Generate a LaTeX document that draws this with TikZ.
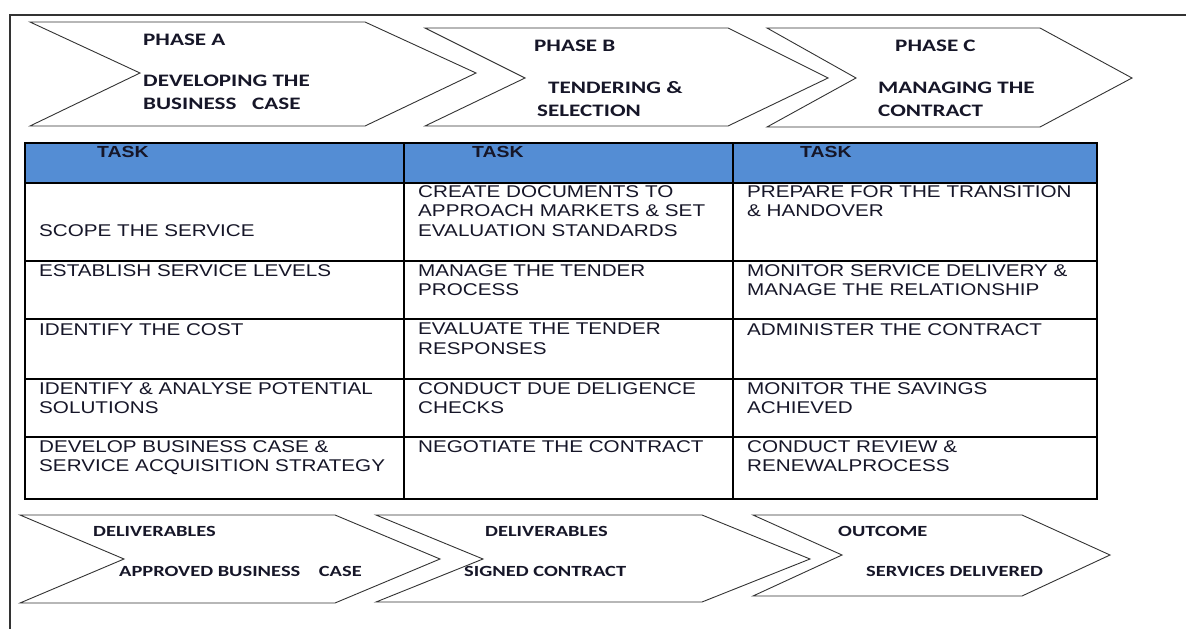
\documentclass[tikz,border=0pt]{standalone}
\usepackage{fontspec}
\setmainfont{Liberation Sans}
\newfontfamily\chevfont[FakeStretch=1.32]{Carlito}
\newfontfamily\cellfont[FakeStretch=1.215]{Liberation Sans}
\definecolor{headblue}{RGB}{84,141,212}
\definecolor{inkdark}{RGB}{22,22,40}

\begin{document}
\begin{tikzpicture}[x=1pt,y=-1pt,
    frame/.style={line width=1.3pt,black!80},
    chevron/.style={line width=0.9pt,black!80,line join=miter},
    grid/.style={line width=1.1pt,black},
    phasetext/.style={inner sep=0,anchor=west,align=left,text=inkdark,
      font=\chevfont\bfseries\fontsize{17.5}{23}\selectfont},
    resulttext/.style={inner sep=0,anchor=west,text=inkdark,
      font=\chevfont\bfseries\fontsize{15.5}{19}\selectfont},
    tasktext/.style={inner sep=0,anchor=west,text=inkdark,
      font=\cellfont\bfseries\fontsize{16}{19}\selectfont},
    celltext/.style={inner sep=0,anchor=north west,align=left,text=inkdark,
      font=\cellfont\fontsize{17}{19.5}\selectfont}]

  \useasboundingbox (0,0) rectangle (1186,629);

  % page frame
  \draw[frame] (10,629) -- (10,15) -- (1186,15);

  % phase chevrons
  \draw[chevron] (30,22) -- (365,22) -- (476,73) -- (365,126) -- (30,126) -- (140,73) -- cycle;
  \draw[chevron] (425,28) -- (728,28) -- (828,78) -- (728,126) -- (425,126) -- (525,78) -- cycle;
  \draw[chevron] (767,28) -- (1040,28) -- (1132,78) -- (1040,127) -- (767,127) -- (856,78) -- cycle;

  \node[phasetext] (phaseA) at (143,40) {PHASE A};
  \node[phasetext] (descA) at (143,92.5) {DEVELOPING THE\\BUSINESS\ \ \ CASE};
  \node[phasetext] (phaseB) at (534,46) {PHASE B};
  \node[phasetext] (descB) at (537,99.5) {\hspace{11pt}TENDERING \&\\SELECTION};
  \node[phasetext] (phaseC) at (895,46) {PHASE C};
  \node[phasetext] (descC) at (878,99.5) {MANAGING THE\\CONTRACT};

  % task table
  \fill[headblue] (25,143) rectangle (1097,183);
  \draw[grid] (25,143) rectangle (1097,499);
  \foreach \y in {183,261,319,379,437}
    \draw[grid] (25,\y) -- (1097,\y);
  \foreach \x in {404,733}
    \draw[grid] (\x,143) -- (\x,499);

  \node[tasktext] (taskA) at (97,152) {TASK};
  \node[tasktext] (taskB) at (472,152) {TASK};
  \node[tasktext] (taskC) at (800,152) {TASK};

  \node[celltext] (scope) at (39,224) {SCOPE THE SERVICE};
  \node[celltext] (create) at (418,185) {CREATE DOCUMENTS TO\\APPROACH MARKETS \& SET\\EVALUATION STANDARDS};
  \node[celltext] (prepare) at (747,185) {PREPARE FOR THE TRANSITION\\\& HANDOVER};

  \node[celltext] (establish) at (39,264) {ESTABLISH SERVICE LEVELS};
  \node[celltext] (tender) at (418,264) {MANAGE THE TENDER\\PROCESS};
  \node[celltext] (monitor) at (747,264) {MONITOR SERVICE DELIVERY \&\\MANAGE THE RELATIONSHIP};

  \node[celltext] (cost) at (39,323) {IDENTIFY THE COST};
  \node[celltext] (evaluate) at (418,323) {EVALUATE THE TENDER\\RESPONSES};
  \node[celltext] (administer) at (747,323) {ADMINISTER THE CONTRACT};

  \node[celltext] (analyse) at (39,382) {IDENTIFY \& ANALYSE POTENTIAL\\SOLUTIONS};
  \node[celltext] (diligence) at (418,382) {CONDUCT DUE DELIGENCE\\CHECKS};
  \node[celltext] (savings) at (747,382) {MONITOR THE SAVINGS\\ACHIEVED};

  \node[celltext] (develop) at (39,440) {DEVELOP BUSINESS CASE \&\\SERVICE ACQUISITION STRATEGY};
  \node[celltext] (negotiate) at (418,440) {NEGOTIATE THE CONTRACT};
  \node[celltext] (review) at (747,440) {CONDUCT REVIEW \&\\RENEWALPROCESS};

  % deliverable chevrons
  \draw[chevron] (20,515) -- (335,515) -- (440,559) -- (335,603) -- (20,603) -- (124,559) -- cycle;
  \draw[chevron] (376,515) -- (702,515) -- (810,559) -- (702,602) -- (376,602) -- (483,559) -- cycle;
  \draw[chevron] (753,515) -- (1022,515) -- (1110,555) -- (1022,596) -- (753,596) -- (842,555) -- cycle;

  \node[resulttext] (delivA) at (93,531) {DELIVERABLES};
  \node[resulttext] (resultA) at (119,571) {APPROVED BUSINESS\ \ \ \ CASE};
  \node[resulttext] (delivB) at (485,531) {DELIVERABLES};
  \node[resulttext] (resultB) at (464,571) {SIGNED CONTRACT};
  \node[resulttext] (outcomeC) at (838,531) {OUTCOME};
  \node[resulttext] (resultC) at (866,571) {SERVICES DELIVERED};
\end{tikzpicture}
\end{document}
